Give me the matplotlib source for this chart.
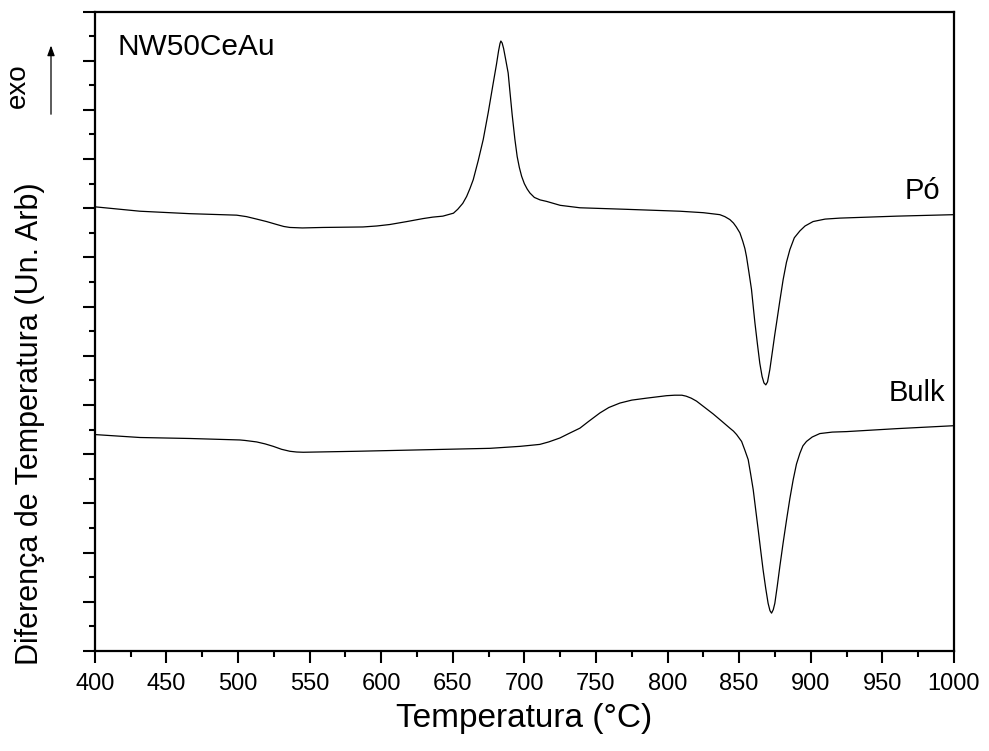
import matplotlib
matplotlib.use("Agg")
import matplotlib.pyplot as plt
from matplotlib.ticker import MultipleLocator

plt.rcParams['font.family'] = ['Liberation Sans', 'DejaVu Sans']

# ---- data ----
po_T = [400, 431.6, 466.5, 499.1, 506, 513.1, 520, 527.1, 532, 536.3, 545, 559.4,
        587.3, 597, 606.1, 618, 629.2, 636, 643.1, 648, 650.5, 653.5, 657, 659.7,
        662, 664.3, 667.8, 671.3, 674.8, 678.3, 680.5, 682, 683, 683.6, 684.5,
        685.5, 686.8, 688.7, 690, 691.5, 693.4, 695, 696.5, 698.1, 700, 702, 703.9,
        707, 711, 715.5, 725.0, 738.8, 770.0, 808.6, 825.0, 836.5, 840, 843.5, 846,
        848, 850.5, 852.5, 854, 855.1, 856.8, 858.6, 860, 861.0, 862.7, 864.4, 866,
        867.3, 868.6, 869.8, 871.4, 873.5, 874.8, 876.1, 878.4, 880.7, 883, 885.4,
        888.5, 892.4, 896, 901.6, 910, 920.3, 960, 1000]
po_v = [9.03, 8.94, 8.89, 8.86, 8.83, 8.78, 8.73, 8.67, 8.63, 8.61, 8.60, 8.61,
        8.62, 8.64, 8.67, 8.73, 8.79, 8.82, 8.84, 8.88, 8.90, 8.98, 9.10, 9.24,
        9.40, 9.58, 9.97, 10.40, 10.95, 11.55, 11.92, 12.20, 12.35, 12.40, 12.36,
        12.25, 12.05, 11.75, 11.35, 10.90, 10.40, 10.05, 9.83, 9.65, 9.50, 9.39, 9.31,
        9.22, 9.17, 9.14, 9.06, 9.01, 8.98, 8.94, 8.91, 8.87, 8.83, 8.77, 8.70,
        8.62, 8.50, 8.33, 8.18, 8.02, 7.70, 7.35, 6.95, 6.67, 6.25, 5.85, 5.58,
        5.45, 5.41, 5.47, 5.72, 6.15, 6.42, 6.67, 7.12, 7.55, 7.90, 8.16,
        8.40, 8.54, 8.64, 8.73, 8.78, 8.80, 8.84, 8.87]

bulk_T = [400, 431.6, 466.5, 501.4, 505, 513.1, 519, 524.7, 530.5, 536.3, 541, 545.6,
          582.9, 629.4, 676.0, 696.9, 704, 710.8, 717, 724.8, 731, 738.8, 745, 752.8,
          759, 766.7, 775, 785.3, 799.3, 805, 810.0, 813, 816.5, 820.2, 826, 831.8,
          837.5, 843.5, 846, 848.2, 851.7, 854.0, 856.3, 858, 859.8, 861.5, 863.3,
          865, 866.7, 868.5, 870.2, 871.5, 872.6, 873.8, 874.9, 876.6, 878.4, 880.7,
          883.1, 885.4, 887.7, 890, 892.4, 894.5, 897.0, 901, 906.3, 915, 925.0,
          959.9, 1000]
bulk_v = [4.40, 4.34, 4.32, 4.29, 4.28, 4.25, 4.21, 4.16, 4.10, 4.06, 4.045, 4.04,
          4.06, 4.09, 4.12, 4.16, 4.18, 4.20, 4.25, 4.33, 4.42, 4.53, 4.67, 4.84,
          4.95, 5.04, 5.10, 5.14, 5.19, 5.20, 5.20, 5.18, 5.14, 5.08, 4.95, 4.82,
          4.68, 4.53, 4.47, 4.40, 4.26, 4.08, 3.89, 3.60, 3.28, 2.88, 2.46,
          2.05, 1.65, 1.28, 0.97, 0.82, 0.77, 0.84, 0.97, 1.32, 1.72, 2.20,
          2.67, 3.10, 3.48, 3.80, 4.02, 4.17, 4.26, 4.35, 4.42, 4.45, 4.46,
          4.52, 4.58]

x_ticks = [400, 450, 500, 550, 600, 650, 700, 750, 800, 850, 900, 950, 1000]

fig = plt.figure(figsize=(9.89, 7.51), dpi=100)
ax = fig.add_axes([94.7/989, 1-651/751, (954-94.7)/989, (651-11.5)/751])

ax.plot(po_T, po_v, color='black', lw=0.9)
ax.plot(bulk_T, bulk_v, color='black', lw=0.9)

ax.set_xlim(400, 1000)
ax.set_ylim(0, 13)
ax.set_xticks(x_ticks)
ax.xaxis.set_minor_locator(MultipleLocator(25))
ax.yaxis.set_major_locator(MultipleLocator(1))
ax.yaxis.set_minor_locator(MultipleLocator(0.5))
ax.set_yticklabels([])
ax.tick_params(which='major', direction='out', length=8.5, width=1.5, labelsize=17, pad=7)
ax.tick_params(which='minor', direction='out', length=4.5, width=1.5)
ax.tick_params(top=False, right=False)
for s in ax.spines.values():
    s.set_linewidth(1.6)

ax.set_xlabel('Temperatura (°C)', fontsize=24, labelpad=6)
ax.set_ylabel('Diferença de Temperatura (Un. Arb)', fontsize=22)
ax.yaxis.set_label_coords((45 - 94.7) / 859.3, (651 - 424) / 639.5)

ax.text(415.6, 12.106, 'NW50CeAu', fontsize=21.5, ha='left', va='baseline')
ax.text(990.1, 9.196, 'Pó', fontsize=21, ha='right', va='baseline')
ax.text(993.6, 5.072, 'Bulk', fontsize=21, ha='right', va='baseline')

# exo arrow
fig.text(17.5/989, 1-85.5/751, 'exo', fontsize=20, rotation=90, ha='center', va='center')
fig.add_artist(matplotlib.patches.FancyArrowPatch(
    (51/989, 1-117/751), (51/989, 1-42.7/751), transform=fig.transFigure,
    arrowstyle='-|>,head_length=6,head_width=2.2', color='black', lw=0.9))

fig.savefig('out.png', dpi=100)
